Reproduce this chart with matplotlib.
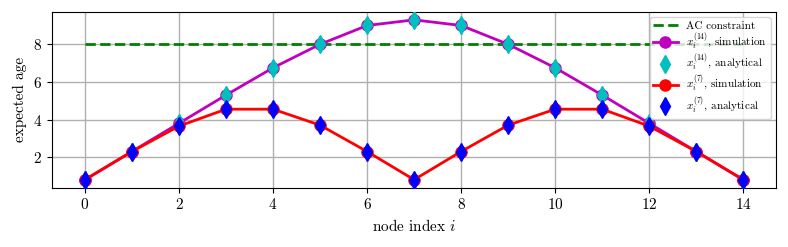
import numpy as np
import matplotlib
matplotlib.use('Agg')
import matplotlib.pyplot as plt

plt.rcParams['font.family'] = 'serif'
plt.rcParams['font.serif'] = ['cmr10']
plt.rcParams['mathtext.fontset'] = 'cm'
plt.rcParams['axes.formatter.use_mathtext'] = True

nodes = np.arange(15)
age14_sim = [0.8, 2.3, 3.8, 5.3, 6.75, 8.0, 9.0, 9.3, 9.0, 8.0, 6.75, 5.3, 3.8, 2.3, 0.8]
age14_ana = [0.8, 2.3, 3.8, 5.3, 6.75, 8.0, 9.0, 9.3, 9.0, 8.0, 6.75, 5.3, 3.8, 2.3, 0.8]
age7_sim = [0.8, 2.3, 3.65, 4.55, 4.55, 3.7, 2.3, 0.8, 2.3, 3.7, 4.55, 4.55, 3.65, 2.3, 0.8]
age7_ana = [0.8, 2.3, 3.65, 4.55, 4.55, 3.7, 2.3, 0.8, 2.3, 3.7, 4.55, 4.55, 3.65, 2.3, 0.8]
ac_limit = 8

fig, ax = plt.subplots(figsize=(7.88, 2.47), dpi=100)
fig.subplots_adjust(left=0.066, right=0.985, top=0.952, bottom=0.24)

ax.plot([nodes[0], nodes[-1]], [ac_limit, ac_limit], '--', color='green', lw=2,
        label='AC constraint', zorder=2)
ax.plot(nodes, age14_sim, '-o', color='m', lw=2, ms=8,
        label=r'$x_i^{(14)}$, simulation', zorder=3)
ax.plot(nodes, age14_ana, 'd', color='c', ms=9, ls='none',
        label=r'$x_i^{(14)}$, analytical', zorder=4)
ax.plot(nodes, age7_sim, '-o', color='red', lw=2, ms=8,
        label=r'$x_i^{(7)}$, simulation', zorder=5)
ax.plot(nodes, age7_ana, 'd', color='blue', ms=9, ls='none',
        label=r'$x_i^{(7)}$, analytical', zorder=6)

ax.set_xticks(np.arange(0, 15, 2))
ax.set_yticks([2, 4, 6, 8])
ax.tick_params(labelsize=11)
ax.grid(True, color='#b0b0b0', lw=1)
ax.set_axisbelow(True)
ax.set_xlabel(r'node index $i$', fontsize=11)
ax.set_ylabel('expected age', fontsize=11)
ax.legend(loc='upper right', fontsize=8, handlelength=2.2, labelspacing=0.0,
          borderpad=0.3, framealpha=0.8)

plt.savefig('out.png', dpi=100)
